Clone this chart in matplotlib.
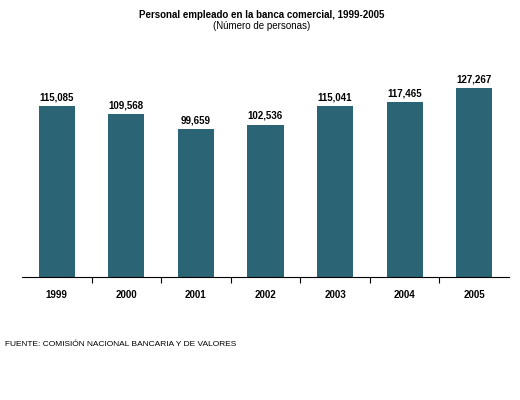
import matplotlib
matplotlib.use("Agg")
import matplotlib.pyplot as plt

years = ["1999", "2000", "2001", "2002", "2003", "2004", "2005"]
values = [115085, 109568, 99659, 102536, 115041, 117465, 127267]

fig = plt.figure(figsize=(5.2, 4.0), dpi=100)
ax = fig.add_axes([22/520, 1-277/400, 487/520, 223/400])
x = list(range(len(years)))
ax.bar(x, values, width=0.52, color="#2a6475")
for xi, v in zip(x, values):
    ax.text(xi, v + 2500, f"{v:,}", ha="center", va="bottom", fontsize=7, fontweight="bold", family="Liberation Sans")
ax.set_xlim(-0.5, len(years) - 0.5)
ax.set_ylim(0, 150000)
ax.set_yticks([])
ax.set_xticks([i + 0.5 for i in x[:-1]], minor=False)
ax.set_xticklabels([])
ax.tick_params(axis="x", length=4, direction="out", color="black")
ax.set_xticks(x, minor=True)
ax.set_xticklabels(years, minor=True, fontsize=7, fontweight="bold", family="Liberation Sans")
ax.tick_params(axis="x", which="minor", length=0, pad=9)
for s in ["top", "right", "left"]:
    ax.spines[s].set_visible(False)
ax.spines["bottom"].set_linewidth(0.8)
fig.text(262/520, 1-15/400, "Personal empleado en la banca comercial, 1999-2005", ha="center", va="center",
         fontsize=7, fontweight="bold", family="Liberation Sans")
fig.text(262/520, 1-26/400, "(Número de personas)", ha="center", va="center", fontsize=7, family="Liberation Sans")
fig.text(5/520, 1-345/400, "FUENTE: COMISIÓN NACIONAL BANCARIA Y DE VALORES", ha="left", va="center",
         fontsize=6, family="Liberation Sans")
fig.savefig("out.png", dpi=100)
